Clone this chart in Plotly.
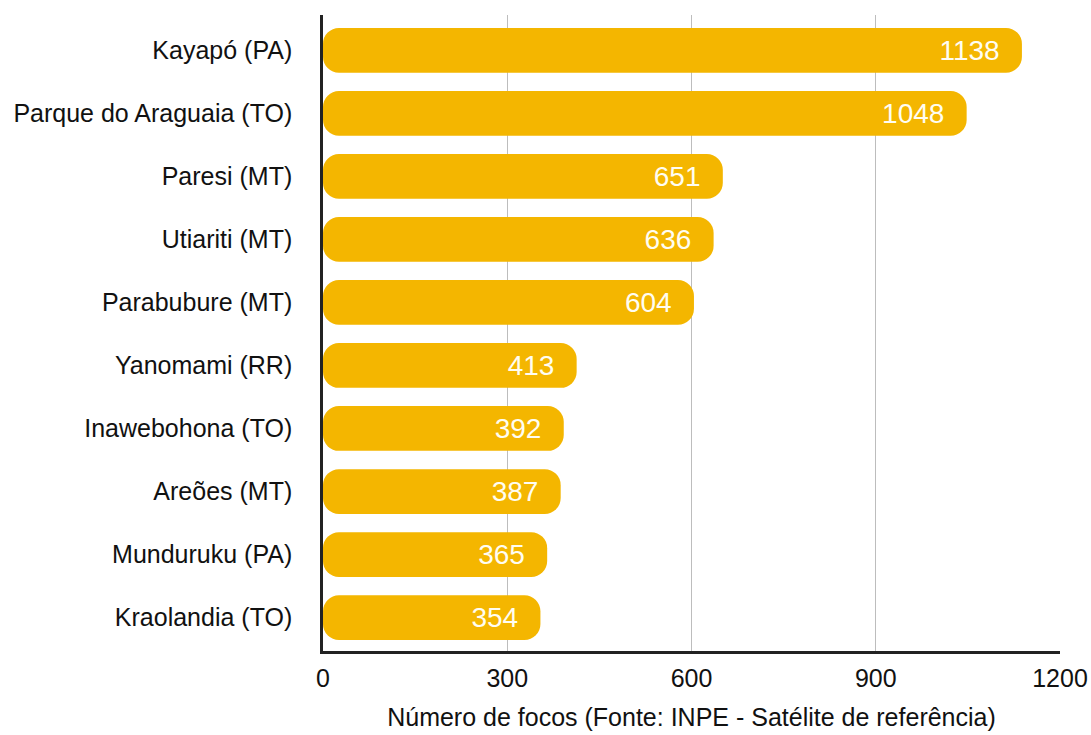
import plotly.graph_objects as go

# Terras indígenas com mais focos de queimadas
territories = [
    "Kayapó (PA)",
    "Parque do Araguaia (TO)",
    "Paresi (MT)",
    "Utiariti (MT)",
    "Parabubure (MT)",
    "Yanomami (RR)",
    "Inawebohona (TO)",
    "Areões (MT)",
    "Munduruku (PA)",
    "Kraolandia (TO)",
]
fire_counts = [1138, 1048, 651, 636, 604, 413, 392, 387, 365, 354]
x_ticks = [0, 300, 600, 900, 1200]

BAR_COLOR = "#F4B600"
FONT = "Liberation Sans, Arial, Helvetica, sans-serif"

fig = go.Figure()

# Floating bars (explicit base) get rounded on both ends -> pill shapes.
fig.add_trace(go.Bar(
    y=territories,
    x=fire_counts,
    base=[0] * len(fire_counts),
    orientation="h",
    marker=dict(color=BAR_COLOR, line=dict(width=0), cornerradius=16),
    width=0.71,
    text=[str(v) for v in fire_counts],
    texttemplate="%{text}\u00a0\u00a0",
    textposition="inside",
    insidetextanchor="end",
    textangle=0,
    textfont=dict(family=FONT, size=28, color="#FFFDF2"),
    showlegend=False,
))

fig.update_layout(
    width=1091,
    height=735,
    plot_bgcolor="white",
    paper_bgcolor="white",
    margin=dict(l=323, r=31, t=15, b=84),
    font=dict(family=FONT, color="#111111"),
    uniformtext=dict(mode="show", minsize=10),
)

fig.update_xaxes(
    range=[0, 1200],
    tickvals=x_ticks,
    ticktext=[str(t) for t in x_ticks],
    tickfont=dict(size=25, color="#111111"),
    showgrid=True,
    gridcolor="#BDBDBD",
    gridwidth=1,
    zeroline=False,
    showline=True,
    linecolor="#222222",
    linewidth=2.5,
    ticks="outside",
    ticklen=3,
    tickcolor="rgba(0,0,0,0)",
    automargin=False,
    title=dict(
        text="Número de focos (Fonte: INPE - Satélite de referência)",
        font=dict(size=25, color="#111111"),
        standoff=18,
    ),
)

fig.update_yaxes(
    type="category",
    categoryorder="array",
    categoryarray=territories,
    range=[9.53, -0.56],
    tickfont=dict(size=25, color="#111111"),
    showgrid=False,
    zeroline=False,
    showline=True,
    linecolor="#222222",
    linewidth=2.5,
    ticks="outside",
    ticklen=23,
    tickcolor="rgba(0,0,0,0)",
    automargin=False,
)

fig.write_html("out.html")
